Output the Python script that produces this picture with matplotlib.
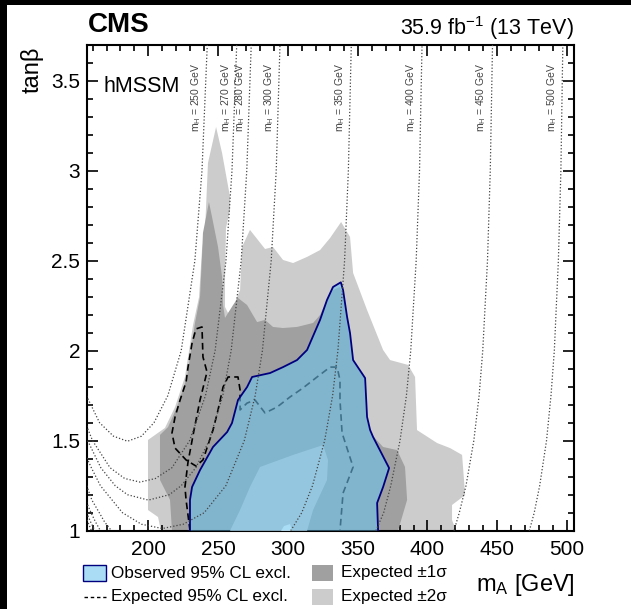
import matplotlib
matplotlib.use('Agg')
import matplotlib.pyplot as plt
from matplotlib.patches import Rectangle
from matplotlib.lines import Line2D
from matplotlib.ticker import MultipleLocator

plt.rcParams['font.family'] = ['Liberation Sans', 'DejaVu Sans']
plt.rcParams['mathtext.fontset'] = 'custom'
plt.rcParams['mathtext.rm'] = 'Liberation Sans'
plt.rcParams['mathtext.it'] = 'Liberation Sans:italic'
plt.rcParams['mathtext.bf'] = 'Liberation Sans:bold'

# Data: (mA [GeV], tan beta)
band2_outer = [(209.0, 1.0), (206.9, 1.076), (199.7, 1.115), (199.7, 1.504), (211.9, 1.571),
               (219.1, 1.687), (226.2, 1.854), (232.0, 2.143), (236.3, 2.298), (238.4, 2.559),
               (240.6, 2.671), (242.7, 3.043), (248.5, 3.243), (252.8, 3.098), (258.5, 2.854),
               (258.5, 2.782), (255.6, 2.682), (254.9, 2.393), (254.9, 2.243), (257.1, 2.209),
               (260.7, 2.243), (265.7, 2.337), (267.1, 2.576), (272.8, 2.671), (283.6, 2.565),
               (289.3, 2.576), (296.5, 2.504), (303.7, 2.487), (313.7, 2.521), (323.0, 2.559),
               (330.2, 2.626), (338.1, 2.715), (344.5, 2.632), (346.7, 2.432), (356.7, 2.226),
               (368.2, 2.004), (373.2, 1.948), (386.1, 1.921), (391.1, 1.854), (392.5, 1.559),
               (406.9, 1.487), (416.2, 1.459), (424.8, 1.421), (427.0, 1.198), (417.6, 1.143),
               (417.6, 1.059), (420.5, 1.0)]

band1_outer = [(216.9, 1.0), (215.5, 1.171), (208.3, 1.282), (208.3, 1.532), (214.1, 1.576),
               (220.5, 1.687), (227.7, 1.854), (233.4, 2.154), (237.0, 2.298), (238.4, 2.521),
               (239.1, 2.654), (243.4, 2.826), (245.6, 2.743), (249.9, 2.576), (252.8, 2.409),
               (253.5, 2.254), (254.9, 2.182), (260.7, 2.254), (264.2, 2.293), (270.7, 2.254),
               (277.9, 2.159), (283.6, 2.171), (289.3, 2.132), (296.5, 2.126), (306.5, 2.132),
               (318.0, 2.154), (323.0, 2.198), (328.0, 2.282), (332.3, 2.337), (337.3, 2.354),
               (340.2, 2.304), (343.8, 2.115), (346.0, 1.948), (354.6, 1.848), (356.0, 1.632),
               (358.9, 1.543), (368.2, 1.465), (378.2, 1.448), (383.9, 1.354), (385.4, 1.171),
               (378.9, 1.0)]

band1_inner = [(258.5, 1.0), (265.7, 1.115), (272.8, 1.243), (280.0, 1.354), (303.7, 1.421),
               (325.2, 1.476), (328.7, 1.393), (328.0, 1.282), (318.0, 1.115), (313.7, 1.0)]

band2_inner = [(295.1, 1.0), (297.2, 1.026), (301.5, 1.037), (302.9, 1.0)]

observed = [(229.8, 1.0), (229.8, 1.171), (231.3, 1.243), (237.0, 1.337), (246.3, 1.465),
            (256.4, 1.548), (259.9, 1.598), (264.2, 1.726), (270.7, 1.798), (274.3, 1.854),
            (287.2, 1.876), (296.5, 1.909), (306.5, 1.948), (313.7, 2.004), (323.0, 2.171),
            (328.0, 2.282), (332.3, 2.354), (337.9, 2.380), (339.5, 2.337), (342.4, 2.187),
            (344.5, 2.098), (346.7, 1.948), (355.3, 1.848), (356.7, 1.632), (358.9, 1.559),
            (361.0, 1.521), (372.5, 1.348), (368.2, 1.243), (363.9, 1.154), (364.6, 1.0)]

expected = [(229.8, 1.0), (227.0, 1.171), (226.2, 1.243), (228.4, 1.382), (232.7, 1.559),
            (237.0, 1.726), (242.0, 1.882), (239.1, 1.965), (238.4, 2.132), (234.1, 2.121),
            (231.3, 2.043), (228.4, 1.909), (227.0, 1.826), (222.7, 1.726), (219.1, 1.632),
            (216.9, 1.543), (219.1, 1.459), (227.0, 1.393), (234.1, 1.359), (239.1, 1.393),
            (246.3, 1.559), (249.9, 1.671), (253.5, 1.798), (257.1, 1.854), (264.2, 1.854),
            (265.7, 1.782), (265.7, 1.671), (270.7, 1.709), (276.4, 1.726), (283.6, 1.654),
            (292.2, 1.687), (301.5, 1.743), (310.8, 1.793), (320.9, 1.854), (330.2, 1.909),
            (335.2, 1.909), (337.3, 1.837), (337.3, 1.726), (338.8, 1.543), (346.7, 1.354),
            (339.5, 1.209), (337.3, 1.0)]

# mH iso-lines, each as a list of branches
mh_values = [250, 270, 280, 300, 350, 400, 450, 500]
mh_lines = {
    250: [[(155.6, 1.75), (165.0, 1.60), (175.0, 1.525), (185.0, 1.497), (195.0, 1.525),
           (204.0, 1.60), (213.9, 1.75), (223.5, 2.0), (233.3, 2.5), (238.4, 3.0), (242.2, 3.7)]],
    270: [[(154.8, 1.60), (160.0, 1.50), (172.5, 1.35), (183.0, 1.29), (194.0, 1.27),
           (205.0, 1.29), (216.9, 1.35), (229.5, 1.50), (240.9, 1.75), (247.8, 2.0),
           (255.6, 2.5), (259.9, 3.0), (263.3, 3.7)]],
    280: [[(156.5, 1.50), (165.9, 1.35), (176.2, 1.25), (185.0, 1.20), (200.0, 1.17),
           (215.0, 1.20), (223.5, 1.25), (234.0, 1.35), (243.5, 1.50), (253.3, 1.75),
           (259.3, 2.0), (266.5, 2.5), (270.5, 3.0), (273.7, 3.7)]],
    300: [[(155.0, 1.42), (159.1, 1.35), (165.6, 1.25), (181.4, 1.10), (195.0, 1.036),
           (210.0, 1.012), (225.0, 1.036), (240.0, 1.10), (255.5, 1.25), (268.7, 1.50),
           (276.5, 1.75), (281.7, 2.0), (288.0, 2.5), (291.6, 3.0), (294.3, 3.7)]],
    350: [[(155.8, 1.25), (159.5, 1.17), (164.8, 1.10), (168.5, 1.05), (173.5, 1.0)],
          [(302.0, 1.0), (309.9, 1.1), (317.6, 1.25), (326.3, 1.5), (332.0, 1.75),
           (335.8, 2.0), (340.6, 2.5), (343.3, 3.0), (345.4, 3.7)]],
    400: [[(155.5, 1.16), (158.9, 1.1), (162.0, 1.05), (165.6, 1.0)],
          [(363.0, 1.0), (368.6, 1.1), (373.7, 1.25), (380.3, 1.5), (384.9, 1.75),
           (388.0, 2.0), (391.9, 2.5), (394.3, 3.0), (396.1, 3.7)]],
    450: [[(155.7, 1.1), (158.5, 1.05), (161.7, 1.0)],
          [(419.0, 1.0), (422.8, 1.1), (427.6, 1.25), (433.2, 1.5), (437.0, 1.75),
           (439.6, 2.0), (443.0, 2.5), (445.0, 3.0), (446.6, 3.7)]],
    500: [[(156.0, 1.06), (159.2, 1.0)],
          [(473.0, 1.0), (476.5, 1.1), (480.4, 1.25), (485.3, 1.5), (488.5, 1.75),
           (490.9, 2.0), (493.8, 2.5), (495.6, 3.0), (497.0, 3.7)]],
}

xticks = [200, 250, 300, 350, 400, 450, 500]
xtick_labels = ['200', '250', '300', '350', '400', '450', '500']
yticks = [1.0, 1.5, 2.0, 2.5, 3.0, 3.5]
ytick_labels = ['1', '1.5', '2', '2.5', '3', '3.5']
legend_labels = ['Observed 95% CL excl.', 'Expected 95% CL excl.',
                 'Expected \u00b11\u03c3', 'Expected \u00b12\u03c3']

W, H = 631, 609
fig = plt.figure(figsize=(W / 100, H / 100), dpi=100, facecolor='black')
fig.patches.append(Rectangle((7 / W, 0), 1, 1 - 5 / H, transform=fig.transFigure,
                             facecolor='white', edgecolor='none', zorder=-10))

ax = fig.add_axes([87 / W, 1 - 530.7 / H, (574 - 87) / W, (530.7 - 44.7) / H])

blue = (108 / 255, 195 / 255, 238 / 255)
ax.fill(*zip(*band2_outer), color='#cccccc', lw=0, zorder=1)
ax.fill(*zip(*band1_outer), color='#a0a0a0', lw=0, zorder=2)
ax.fill(*zip(*band1_inner), color='#cccccc', lw=0, zorder=3)
ax.fill(*zip(*band2_inner), color='white', lw=0, zorder=4)
ax.plot(*zip(*expected), color='black', ls=(0, (4, 2.5)), lw=1.2, zorder=5)
ax.fill(*zip(*observed), facecolor=blue, alpha=0.58, lw=0, zorder=6)
ax.plot(*zip(*observed), color='#00007f', lw=1.3, zorder=7)

for m in mh_values:
    for branch in mh_lines[m]:
        ax.plot(*zip(*branch), color='#444444', ls=(0, (1, 1.6)), lw=0.9, zorder=8)
    top_ma = mh_lines[m][-1][-1][0]
    ax.text(top_ma - 3.0, 3.60, r'm$_{\mathrm{H}}$ = %d GeV' % m, rotation=90,
            rotation_mode='anchor', ha='right', va='bottom', fontsize=7.5,
            color='#444444', zorder=9)

ax.text(167.5, 3.437, 'hMSSM', fontsize=15.5, va='baseline')

ax.set_xlim(156, 505)
ax.set_ylim(1, 3.7)
ax.set_xticks(xticks, labels=xtick_labels)
ax.set_yticks(yticks, labels=ytick_labels)
ax.xaxis.set_minor_locator(MultipleLocator(10))
ax.yaxis.set_minor_locator(MultipleLocator(0.1))
ax.tick_params(which='both', direction='in', top=True, right=True, width=1.2, labelsize=15)
ax.tick_params(which='major', length=8)
ax.tick_params(which='minor', length=4)
ax.tick_params(axis='x', pad=7)
ax.tick_params(axis='y', pad=5)
for sp in ax.spines.values():
    sp.set_linewidth(1.5)

# legend drawn by hand under the axes
row1, row2 = 573, 597
fig.patches.append(Rectangle((83 / W, 1 - (row1 + 8) / H), 23 / W, 16 / H,
                             transform=fig.transFigure, facecolor='#aadcf5',
                             edgecolor='#00007f', lw=1))
fig.lines.append(Line2D([84 / W, 106 / W], [1 - row2 / H, 1 - row2 / H],
                        transform=fig.transFigure, color='black', ls=(0, (2.5, 2)), lw=1))
fig.patches.append(Rectangle((312 / W, 1 - (row1 + 8) / H), 21 / W, 16 / H,
                             transform=fig.transFigure, facecolor='#a0a0a0', edgecolor='none'))
fig.patches.append(Rectangle((312 / W, 1 - (row2 + 8) / H), 21 / W, 16 / H,
                             transform=fig.transFigure, facecolor='#cccccc', edgecolor='none'))
fig.text(111 / W, 1 - row1 / H, legend_labels[0], va='center', fontsize=12.3)
fig.text(111 / W, 1 - row2 / H, legend_labels[1], va='center', fontsize=12.3)
fig.text(341 / W, 1 - row1 / H, legend_labels[2], va='center', fontsize=12.3)
fig.text(341 / W, 1 - row2 / H, legend_labels[3], va='center', fontsize=12.3)

fig.text(575 / W, 1 - 585 / H, r'm$_{\mathrm{A}}$ [GeV]', ha='right', va='center', fontsize=17)
fig.text(32 / W, 1 - 47 / H, 'tan\u03b2', rotation=90, ha='center', va='top', fontsize=17)
fig.text(88 / W, 1 - 32 / H, 'CMS', fontweight='bold', fontsize=20, va='baseline')
fig.text(574 / W, 1 - 35 / H, r'35.9 fb$^{\mathrm{-1}}$ (13 TeV)', ha='right', va='baseline',
         fontsize=15.5)

fig.savefig('out.png', dpi=100, facecolor=fig.get_facecolor())
